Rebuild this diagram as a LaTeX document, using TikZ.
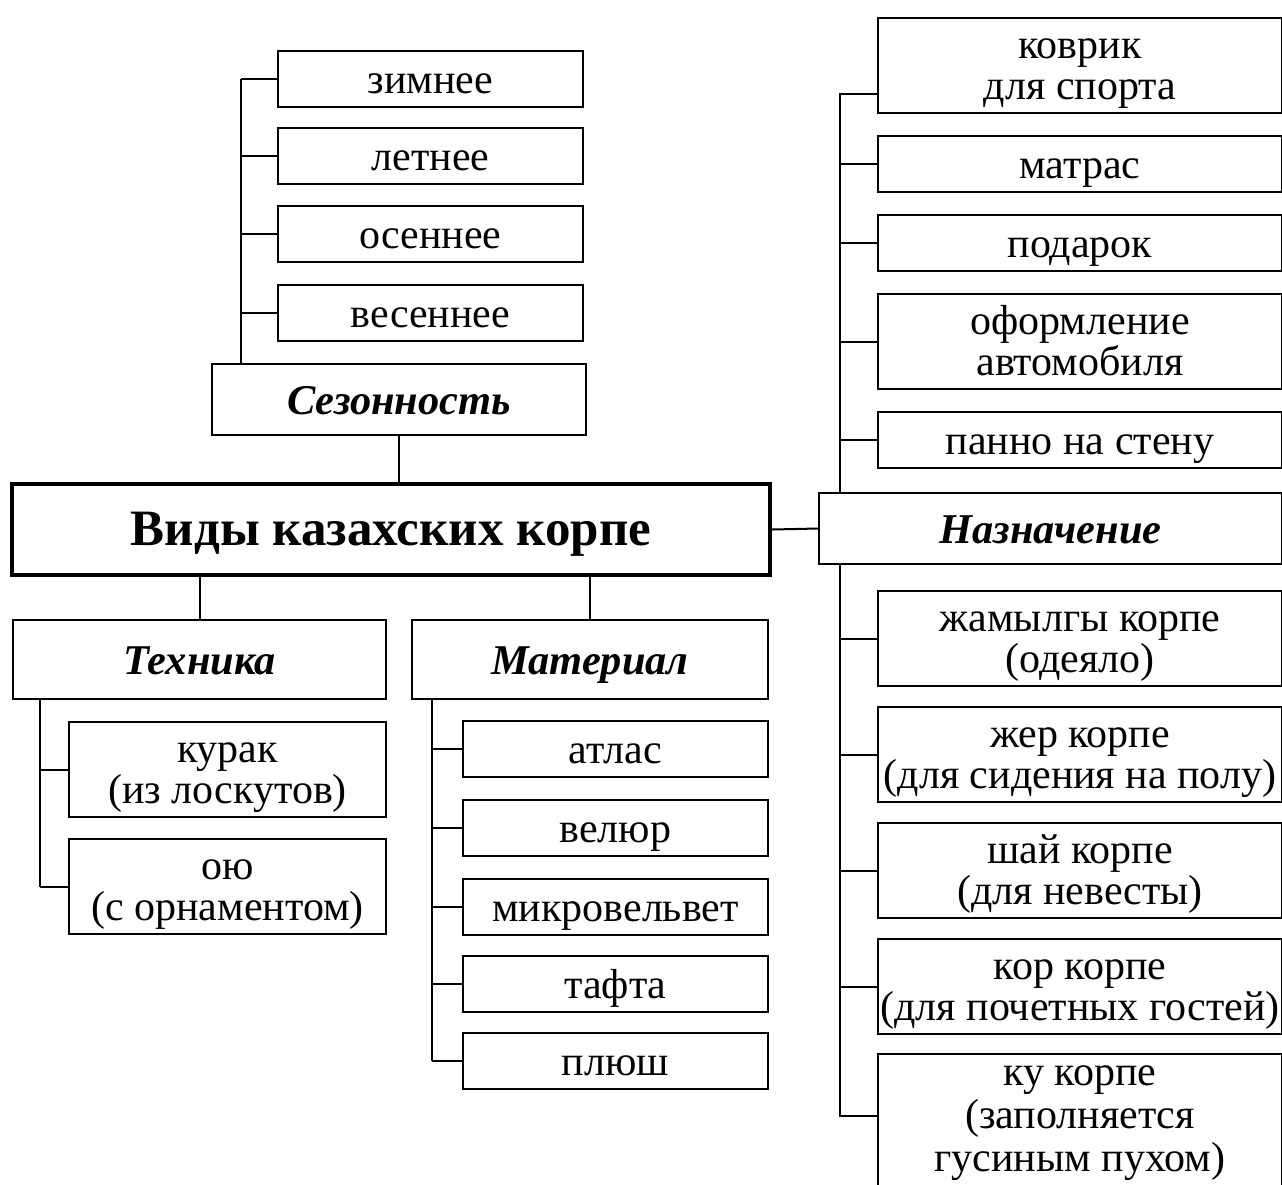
\documentclass[tikz,border=0pt]{standalone}
\usepackage{fontspec}
\setmainfont{Liberation Serif}
\usetikzlibrary{positioning,calc}
\newcommand{\upStrut}{\rule{0pt}{20pt}}
\newcommand{\downStrut}{\rule[-7pt]{0pt}{7pt}}
\tikzset{%
  baseBox/.style={%
    rectangle,
    draw=black,
    line width=1pt,
    anchor=north west,
    inner sep=0pt,
    align=center
  },
  textStruts/.style 2 args={%
    execute at begin node={\rule{0pt}{#1}},
    execute at end node={\rule[-#2]{0pt}{#2}}
  },
  leafBox/.style={%
    baseBox,
    minimum height=28pt,
    textStruts={20pt}{6pt},
    font=\fontsize{21}{21}\selectfont
  },
  tallBox/.style={%
    baseBox,
    minimum height=47.5pt,
    font=\fontsize{21}{20.5}\selectfont
  },
  groupBox/.style={%
    baseBox,
    minimum height=35.5pt,
    textStruts={21pt}{6.5pt},
    font=\bfseries\itshape\fontsize{21.2}{23}\selectfont
  },
  rootBox/.style={%
    baseBox,
    line width=2pt,
    minimum width=379pt,
    minimum height=45.5pt,
    textStruts={24pt}{8pt},
    font=\bfseries\fontsize{25.5}{28}\selectfont
  },
  linkLine/.style={%
    line width=1pt,
    color=black
  }
}

\begin{document}
\begin{tikzpicture}[x=0.5pt,y=-0.5pt]
  \clip (0,0) rectangle (1282,1185);
  \fill[white] (0,0) rectangle (1282,1185);

  % root
  \node[rootBox] (vidy) at (10,482) {Виды казахских корпе};

  % seasons
  \node[groupBox, minimum width=187pt] (sezon) at (211,363) {Сезонность};
  \node[leafBox, minimum width=152.5pt] (zimnee) at (277,50) {зимнее};
  \node[leafBox, minimum width=152.5pt] (letnee) at (277,127) {летнее};
  \node[leafBox, minimum width=152.5pt] (osennee) at (277,205) {осеннее};
  \node[leafBox, minimum width=152.5pt] (vesennee) at (277,284) {весеннее};

  % technique
  \node[groupBox, minimum width=186.5pt, minimum height=39.5pt] (tehnika) at (12,619) {Техника};
  \node[tallBox, minimum width=158.5pt, minimum height=46.5pt] (kurak) at (68,721) {\upStrut курак\\(из лоскутов)\downStrut};
  \node[tallBox, minimum width=158.5pt, minimum height=46.5pt] (oyu) at (68,838) {\upStrut ою\\(с орнаментом)\downStrut};

  % material
  \node[groupBox, minimum width=178pt, minimum height=39.5pt] (material) at (411,619) {Материал};
  \node[leafBox, minimum width=152.5pt] (atlas) at (462,720) {атлас};
  \node[leafBox, minimum width=152.5pt] (velur) at (462,799) {велюр};
  \node[leafBox, minimum width=152.5pt] (mikro) at (462,878) {микровельвет};
  \node[leafBox, minimum width=152.5pt] (tafta) at (462,955) {тафта};
  \node[leafBox, minimum width=152.5pt] (plush) at (462,1032) {плюш};

  % purpose
  \node[groupBox, minimum width=231.5pt] (naznach) at (818,492) {Назначение};
  \node[tallBox, minimum width=202pt] (kovrik) at (877,17) {\upStrut коврик\\для спорта\downStrut};
  \node[leafBox, minimum width=202pt] (matras) at (877,135) {матрас};
  \node[leafBox, minimum width=202pt] (podarok) at (877,214) {подарок};
  \node[tallBox, minimum width=202pt] (avto) at (877,293) {\upStrut оформление\\автомобиля\downStrut};
  \node[leafBox, minimum width=202pt] (panno) at (877,411) {панно на стену};
  \node[tallBox, minimum width=202pt] (zhamylgy) at (877,590) {\upStrut жамылгы корпе\\(одеяло)\downStrut};
  \node[tallBox, minimum width=202pt] (zher) at (877,706) {\upStrut жер корпе\\(для сидения на полу)\downStrut};
  \node[tallBox, minimum width=202pt] (shay) at (877,822) {\upStrut шай корпе\\(для невесты)\downStrut};
  \node[tallBox, minimum width=202pt] (kor) at (877,938) {\upStrut кор корпе\\(для почетных гостей)\downStrut};
  \node[tallBox, minimum width=202pt, minimum height=68pt,
        font=\fontsize{21}{21.5}\selectfont] (ku) at (877,1053) {\rule{0pt}{13pt}ку корпе\\(заполняется\\гусиным пухом)\downStrut};

  % trunks
  \coordinate (sezTrunk) at (241,0);
  \coordinate (tehTrunk) at (40,0);
  \coordinate (matTrunk) at (432,0);
  \coordinate (nazTrunk) at (840,0);

  \draw[linkLine] (sezon.north -| sezTrunk) -- (zimnee.west -| sezTrunk);
  \foreach \n in {zimnee,letnee,osennee,vesennee}
    \draw[linkLine] (\n.west -| sezTrunk) -- (\n.west);

  \draw[linkLine] (tehnika.south -| tehTrunk) -- (oyu.west -| tehTrunk);
  \foreach \n in {kurak,oyu}
    \draw[linkLine] (\n.west -| tehTrunk) -- (\n.west);

  \draw[linkLine] (material.south -| matTrunk) -- (plush.west -| matTrunk);
  \foreach \n in {atlas,velur,mikro,tafta,plush}
    \draw[linkLine] (\n.west -| matTrunk) -- (\n.west);

  \draw[linkLine] (naznach.north -| nazTrunk) -- ([yshift=-14pt]kovrik.west -| nazTrunk) -- ([yshift=-14pt]kovrik.west);
  \foreach \n in {matras,podarok,avto,panno}
    \draw[linkLine] (\n.west -| nazTrunk) -- (\n.west);
  \draw[linkLine] (naznach.south -| nazTrunk) -- ([yshift=3pt]ku.west -| nazTrunk) -- ([yshift=3pt]ku.west);
  \foreach \n in {zhamylgy,zher,shay,kor}
    \draw[linkLine] (\n.west -| nazTrunk) -- (\n.west);

  % root links
  \draw[linkLine] (sezon.south) -- (sezon.south |- vidy.north);
  \draw[linkLine] (tehnika.north) -- (tehnika.north |- vidy.south);
  \draw[linkLine] (material.north) -- (material.north |- vidy.south);
  \draw[linkLine] (vidy.east) -- (naznach.west);
\end{tikzpicture}
\end{document}
